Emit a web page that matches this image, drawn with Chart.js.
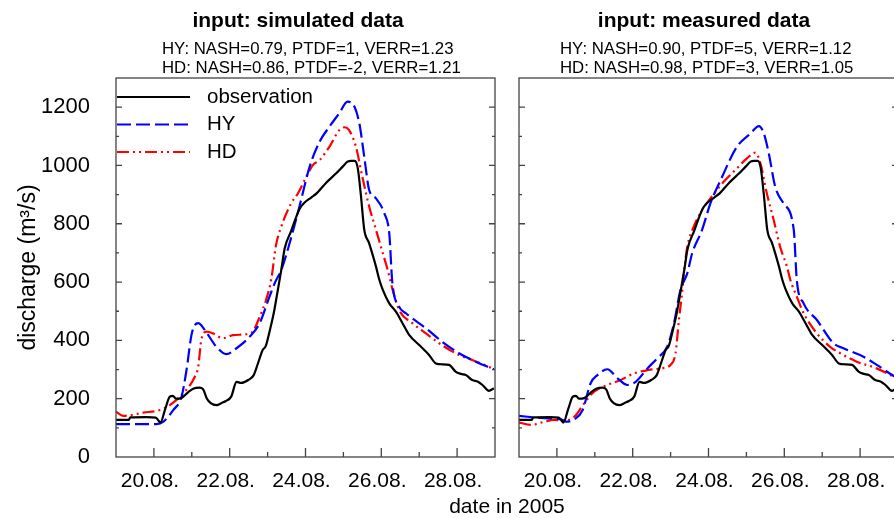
<!DOCTYPE html>
<html>
<head>
<meta charset="utf-8">
<title>discharge 2005</title>
<script src="https://cdn.jsdelivr.net/npm/chart.js@4.4.0/dist/chart.umd.min.js"></script>
<style>
    html, body { margin: 0; padding: 0; background: #fff; overflow: hidden; }
    #wrap { position: relative; width: 894px; height: 518px; overflow: hidden; }
    #left { position: absolute; left: 0; top: 0; }
    #right { position: absolute; left: 510px; top: 0; }
    #xtitle {
        position: absolute; left: 407px; top: 495px; width: 200px;
        text-align: center; font: 21px "Liberation Sans", Arial, sans-serif;
        line-height: 21px; color: #000;
    }
</style>
</head>
<body>
<div id="wrap">
    <canvas id="left" width="510" height="518"></canvas>
    <canvas id="right" width="400" height="518"></canvas>
    <div id="xtitle">date in 2005</div>
</div>
<script>
// day of August 2005 / discharge in m3/s
const obsDays = [19.0, 19.33, 19.38, 19.8, 20.05, 20.12, 20.17, 20.3, 20.42, 20.5, 20.58, 20.72, 20.9, 21.05, 21.2, 21.3, 21.4, 21.5, 21.65, 21.8, 21.9, 22.04, 22.18, 22.3, 22.5, 22.63, 22.74, 22.87, 22.95, 23.06, 23.16, 23.27, 23.36, 23.45, 23.62, 23.84, 23.97, 24.15, 24.3, 24.54, 24.81, 24.98, 25.11, 25.2, 25.3, 25.38, 25.46, 25.55, 25.68, 25.86, 25.95, 26.04, 26.21, 26.39, 26.56, 26.74, 27.0, 27.26, 27.44, 27.6, 27.79, 27.96, 28.1, 28.23, 28.4, 28.55, 28.67, 28.84, 28.97];
const obsQ = [127, 127, 136, 137, 135, 125, 118, 165, 207, 210, 200, 202, 222, 235, 238, 232, 200, 185, 178, 186, 192, 207, 258, 254, 265, 280, 319, 367, 380, 435, 492, 573, 641, 715, 775, 850, 872, 890, 905, 940, 973, 996, 1013, 1016, 1016, 990, 900, 780, 733, 653, 607, 573, 527, 498, 459, 418, 384, 350, 321, 318, 316, 293, 285, 281, 264, 258, 247, 227, 236];

// input: simulated data
const simHyDays = [19.0, 20.07, 20.25, 20.51, 20.73, 20.86, 21.0, 21.17, 21.34, 21.65, 21.91, 22.18, 22.53, 22.79, 23.05, 23.2, 23.36, 23.58, 23.84, 24.11, 24.37, 24.63, 24.89, 25.11, 25.29, 25.42, 25.55, 25.68, 25.86, 26.08, 26.21, 26.29, 26.47, 26.65, 27.18, 27.61, 28.05, 28.49, 28.97];
const simHyQ = [113, 113, 121, 161, 207, 298, 424, 459, 436, 378, 353, 373, 413, 459, 550, 600, 641, 733, 859, 996, 1081, 1133, 1179, 1219, 1202, 1145, 1030, 916, 887, 836, 767, 600, 516, 493, 441, 395, 356, 327, 301];
const simHdDays = [19.0, 19.19, 19.72, 20.16, 20.42, 20.77, 21.08, 21.17, 21.25, 21.39, 21.56, 21.82, 22.09, 22.44, 22.61, 22.79, 22.96, 23.1, 23.22, 23.36, 23.62, 23.8, 24.02, 24.2, 24.37, 24.63, 24.89, 25.02, 25.15, 25.33, 25.5, 25.68, 25.86, 26.04, 26.17, 26.3, 26.47, 26.82, 27.18, 27.53, 28.05, 28.4, 28.97];
const simHdQ = [155, 141, 152, 161, 178, 218, 275, 310, 401, 430, 424, 407, 418, 421, 430, 481, 539, 612, 725, 790, 870, 904, 961, 1002, 1018, 1064, 1121, 1131, 1121, 1064, 961, 859, 779, 699, 641, 573, 504, 459, 424, 390, 350, 333, 302];

// input: measured data
const measHyDays = [19.0, 19.67, 20.11, 20.24, 20.46, 20.68, 20.89, 21.07, 21.33, 21.6, 21.86, 22.08, 22.39, 22.65, 22.91, 23.09, 23.26, 23.44, 23.57, 23.83, 24.05, 24.32, 24.75, 25.11, 25.33, 25.46, 25.59, 25.76, 25.98, 26.25, 26.33, 26.51, 26.86, 27.3, 27.56, 28.09, 28.44, 28.89, 29.0];
const measHyQ = [141, 133, 129, 121, 129, 161, 253, 281, 301, 270, 247, 258, 304, 339, 378, 459, 573, 630, 699, 779, 870, 950, 1064, 1110, 1135, 1110, 1042, 927, 870, 779, 607, 527, 470, 390, 373, 344, 316, 278, 272];
const measHdDays = [19.0, 19.32, 19.67, 19.93, 20.19, 20.46, 20.72, 20.98, 21.33, 21.68, 22.04, 22.39, 22.74, 23.0, 23.13, 23.22, 23.31, 23.35, 23.44, 23.61, 23.83, 24.05, 24.4, 24.75, 25.02, 25.24, 25.37, 25.54, 25.72, 25.89, 26.07, 26.16, 26.33, 26.51, 26.86, 27.21, 27.56, 27.91, 28.44, 28.89, 29.0];
const measHdQ = [118, 110, 121, 127, 125, 138, 184, 224, 247, 264, 287, 298, 304, 316, 356, 470, 573, 630, 721, 790, 847, 887, 944, 990, 1025, 1044, 1007, 904, 813, 721, 653, 607, 550, 493, 424, 378, 350, 327, 304, 275, 268];

const dateTicks = [20, 22, 24, 26, 28];
const qTicks = [0, 200, 400, 600, 800, 1000, 1200];

Chart.defaults.font.family = '"Liberation Sans", Arial, sans-serif';
Chart.defaults.color = '#000';

const pts = (xs, ys) => xs.map((x, i) => ({ x: x, y: ys[i] }));

function lineSet(label, data, color, dash) {
    return {
        label: label,
        data: data,
        borderColor: color,
        borderWidth: 2.2,
        borderDash: dash,
        pointRadius: 0,
        fill: false,
        cubicInterpolationMode: 'monotone'
    };
}

// frame, inward ticks, panel titles and legend
const framePlugin = {
    id: 'frame',
    afterDatasetsDraw(chart, args, opts) {
        const { ctx, chartArea: a } = chart;
        const x = chart.scales.x, y = chart.scales.y;
        ctx.save();
        ctx.strokeStyle = '#444';
        ctx.lineWidth = 1.3;
        ctx.setLineDash([]);
        ctx.strokeRect(a.left, a.top, a.right - a.left, a.bottom - a.top);
        ctx.beginPath();
        for (let d = 20; d <= 28; d++) {
            const px = x.getPixelForValue(d);
            const len = d % 2 === 0 ? 9 : 5;
            ctx.moveTo(px, a.bottom);
            ctx.lineTo(px, a.bottom - len);
        }
        for (let q = 100; q < y.max; q += 100) {
            const py = y.getPixelForValue(q);
            const len = q % 200 === 0 ? 6 : 3;
            ctx.moveTo(a.left, py);
            ctx.lineTo(a.left + len, py);
            ctx.moveTo(a.right, py);
            ctx.lineTo(a.right - len, py);
        }
        ctx.stroke();

        ctx.fillStyle = '#000';
        ctx.textBaseline = 'alphabetic';
        ctx.font = 'bold 21px "Liberation Sans", Arial, sans-serif';
        ctx.textAlign = 'center';
        ctx.fillText(opts.title, opts.titleX, 27);
        ctx.font = '16.8px "Liberation Sans", Arial, sans-serif';
        ctx.textAlign = 'left';
        opts.lines.forEach((t, i) => ctx.fillText(t, opts.linesX, 53.5 + i * 19));

        if (opts.legend) {
            ctx.font = '20.5px "Liberation Sans", Arial, sans-serif';
            ctx.textBaseline = 'middle';
            chart.data.datasets.forEach((ds, i) => {
                const ly = a.top + 19 + i * 27.5;
                ctx.strokeStyle = ds.borderColor;
                ctx.lineWidth = ds.borderWidth;
                ctx.setLineDash(ds.borderDash || []);
                ctx.beginPath();
                ctx.moveTo(a.left + 1, ly);
                ctx.lineTo(a.left + 74, ly);
                ctx.stroke();
                ctx.fillText(ds.label, a.left + 91, ly);
            });
        }
        ctx.restore();
    }
};

function makeChart(id, hy, hd, panel, showY, axisWidth, padRight) {
    return new Chart(document.getElementById(id), {
        type: 'line',
        data: {
            datasets: [
                lineSet('observation', pts(obsDays, obsQ), '#000000', []),
                lineSet('HY', hy, '#0000ff', [14, 5]),
                lineSet('HD', hd, '#ff0000', [12, 4, 2, 4, 2, 4])
            ]
        },
        options: {
            responsive: false,
            animation: false,
            layout: { padding: { left: 0, top: 78, right: padRight, bottom: 0 } },
            plugins: {
                legend: { display: false },
                title: { display: false },
                tooltip: { enabled: false },
                frame: panel
            },
            scales: {
                x: {
                    type: 'linear',
                    min: 19,
                    max: 29,
                    grid: { display: false },
                    border: { display: false },
                    afterBuildTicks: s => { s.ticks = dateTicks.map(v => ({ value: v })); },
                    afterFit: s => { s.height = 61; },
                    ticks: {
                        padding: 4,
                        labelOffset: -4,
                        maxRotation: 0,
                        font: { size: 21 },
                        callback: v => v + '.08.'
                    }
                },
                y: {
                    min: 0,
                    max: 1300,
                    grid: { display: false },
                    border: { display: false },
                    afterBuildTicks: s => { s.ticks = qTicks.map(v => ({ value: v })); },
                    afterFit: s => { s.width = axisWidth; },
                    ticks: {
                        display: showY,
                        padding: 18,
                        font: { size: 22 },
                        callback: v => String(v)
                    },
                    title: {
                        display: showY,
                        text: 'discharge (m³/s)',
                        font: { size: 23 },
                        padding: { top: 15, bottom: 0 }
                    }
                }
            }
        },
        plugins: [framePlugin]
    });
}

makeChart('left', pts(simHyDays, simHyQ), pts(simHdDays, simHdQ), {
    title: 'input: simulated data',
    titleX: 298,
    lines: ['HY: NASH=0.79, PTDF=1, VERR=1.23', 'HD: NASH=0.86, PTDF=-2, VERR=1.21'],
    linesX: 162,
    legend: true
}, true, 116, 15);

makeChart('right', pts(measHyDays, measHyQ), pts(measHdDays, measHdQ), {
    title: 'input: measured data',
    titleX: 194,
    lines: ['HY: NASH=0.90, PTDF=5, VERR=1.12', 'HD: NASH=0.98, PTDF=3, VERR=1.05'],
    linesX: 50,
    legend: false
}, false, 9, 12);
</script>
</body>
</html>
